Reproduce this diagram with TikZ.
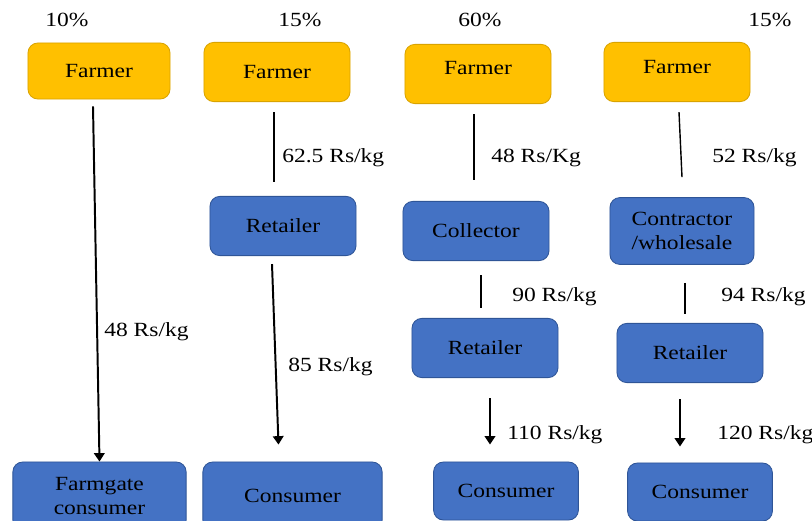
\documentclass[tikz,border=0pt]{standalone}
\usepackage{fontspec}
\setmainfont{Liberation Serif}[FakeStretch=1.17]
\usepackage{tikz}
\usetikzlibrary{arrows.meta, calc}
\definecolor{farmgold}{HTML}{FFC000}
\definecolor{farmgoldline}{HTML}{D9A300}
\definecolor{chainblue}{HTML}{4472C4}
\definecolor{chainblueline}{HTML}{2F5597}

\begin{document}
\begin{tikzpicture}[x=0.025cm, y=-0.025cm,
    farmer/.style={draw=farmgoldline, fill=farmgold, rounded corners=7pt,
                   minimum width=3.65cm, minimum height=1.48cm, line width=0.6pt,
                   font=\fontsize{14.3}{17.5}\selectfont, align=center},
    agent/.style={farmer, draw=chainblueline, fill=chainblue},
    price/.style={anchor=west, inner sep=0pt, font=\fontsize{14.3}{17}\selectfont},
    share/.style={inner sep=0pt, font=\fontsize{14.3}{17}\selectfont},
    link/.style={line width=1pt},
    flow/.style={line width=1.4pt, -{Triangle[length=6pt, width=7.5pt]}}]
    \clip (0,0) rectangle (812,521);
    % shares of the four channels
    \node[share] (s1) at (67,20) {10\%};
    \node[share] (s2) at (300,20) {15\%};
    \node[share] (s3) at (480,20) {60\%};
    \node[share] (s4) at (770,20) {15\%};
    % producers
    \node[farmer, minimum width=3.55cm, minimum height=1.4cm] (f1) at (99,71) {Farmer};
    \node[farmer] (f2) at (277,72) {Farmer};
    \node[farmer, text depth=8pt] (f3) at (478,74) {Farmer};
    \node[farmer, text depth=7pt] (f4) at (677,72) {Farmer};
    % middlemen
    \node[agent] (r2) at (283,226) {Retailer};
    \node[agent] (k3) at (476,231) {Collector};
    \node[agent, minimum width=3.6cm, minimum height=1.67cm] (w4) at (682,231) {Contractor\\/wholesale};
    \node[agent] (r3) at (485,348) {Retailer};
    \node[agent] (r4) at (690,353) {Retailer};
    % buyers
    \node[agent, minimum width=4.33cm, minimum height=1.7cm] (g1) at (99.5,496) {Farmgate\\consumer};
    \node[agent, minimum width=4.48cm, minimum height=1.7cm] (c2) at (292.5,496) {Consumer};
    \node[agent, minimum width=3.62cm, minimum height=1.45cm] (c3) at (506,491) {Consumer};
    \node[agent, minimum width=3.62cm, minimum height=1.45cm] (c4) at (700,492) {Consumer};
    % channel 1
    \draw[flow] ($(f1.south)+(-6,7)$) -- (g1.north);
    \node[price] (p1) at (104,332) {48 Rs/kg};
    % channel 2
    \draw[link] ($(f2.south)+(-3,10)$) -- ($(r2.north)+(-9,-14)$);
    \node[price] (p2) at (282,158) {62.5 Rs/kg};
    \draw[flow] ($(r2.south)+(-11,8)$) -- ($(c2.north)+(-14,-17)$);
    \node[price] (p3) at (288,367) {85 Rs/kg};
    % channel 3
    \draw[link] ($(f3.south)+(-4,10)$) -- ($(k3.north)+(-2,-21)$);
    \node[price] (p4) at (491,158) {48 Rs/Kg};
    \draw[link] ($(k3.south)+(5,14)$) -- ($(r3.north)+(-4,-10)$);
    \node[price] (p5) at (512,297) {90 Rs/kg};
    \draw[flow] ($(r3.south)+(5,20)$) -- ($(c3.north)+(-16,-17)$);
    \node[price] (p6) at (507,435) {110 Rs/kg};
    % channel 4
    \draw[link] ($(f4.south)+(2,10)$) -- ($(w4.north)+(0,-20)$);
    \node[price] (p7) at (712,158) {52 Rs/kg};
    \draw[link] ($(w4.south)+(3,18)$) -- ($(r4.north)+(-5,-9)$);
    \node[price] (p8) at (721,297) {94 Rs/kg};
    \draw[flow] ($(r4.south)+(-10,16)$) -- ($(c4.north)+(-20,-16)$);
    \node[price] (p9) at (717,435) {120 Rs/kg};
\end{tikzpicture}
\end{document}
